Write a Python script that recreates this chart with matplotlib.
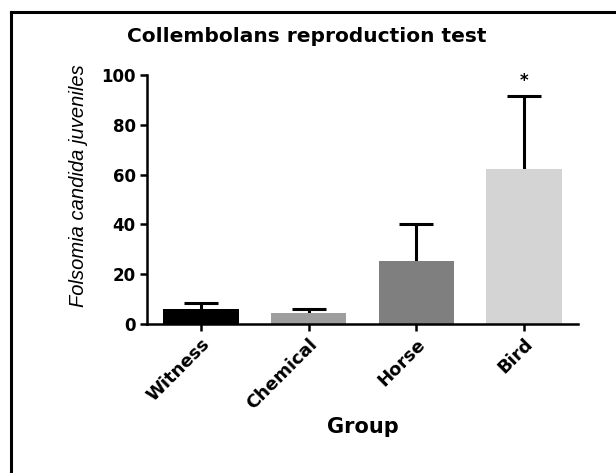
import numpy as np
import matplotlib.pyplot as plt
from matplotlib.lines import Line2D

# Data
groups = ["Witness", "Chemical", "Horse", "Bird"]
means = [5.9, 4.5, 25.2, 62.2]
errors = [2.4, 1.4, 14.8, 29.5]
colors = ["#000000", "#9e9e9e", "#7f7f7f", "#d4d4d4"]
star_group = "Bird"
star_y = 97.5

plt.rcParams['font.family'] = ['DejaVu Sans']

fig = plt.figure(figsize=(6.16, 4.73), dpi=100)
ax = fig.add_axes([0.2386, 0.315, 0.6994, 0.5264])

x = np.arange(len(groups))
# upper error bars only (SD shown above the bar)
_, caps, _ = ax.errorbar(x, means, yerr=[np.zeros(len(errors)), errors], fmt='none',
                         ecolor='black', elinewidth=2.2, capsize=12, capthick=2.2, zorder=1)
caps[0].set_visible(False)
ax.bar(x, means, width=0.7, color=colors, zorder=2)

ax.text(groups.index(star_group), star_y, "*", ha='center', va='center',
        fontsize=12, fontweight='bold')

ax.set_xlim(-0.5, 3.5)
ax.set_ylim(0, 100)
ax.set_yticks([0, 20, 40, 60, 80, 100])
ax.set_xticks(x)
ax.set_xticklabels(groups, rotation=45, ha='right', rotation_mode='anchor',
                   fontsize=13, fontweight='bold')
for lbl in ax.get_yticklabels():
    lbl.set_fontweight('bold')
    lbl.set_fontsize(12)

for side in ['top', 'right']:
    ax.spines[side].set_visible(False)
for side in ['left', 'bottom']:
    ax.spines[side].set_linewidth(1.8)
ax.tick_params(axis='both', width=1.8, length=5, direction='out')
ax.tick_params(axis='x', pad=3)
ax.tick_params(axis='y', pad=3)

fig.text(307 / 616, 1 - 37 / 473, "Collembolans reproduction test", ha='center', va='center',
         fontsize=14.5, fontweight='bold')
ax.set_ylabel("Folsomia candida juveniles", fontsize=14.5, style='italic',
              family=['Liberation Sans', 'DejaVu Sans'])
ax.yaxis.set_label_coords(-0.137, 0.555)
ax.set_xlabel("Group", fontsize=15, fontweight='bold', labelpad=3)

# frame around the picture (left and top edges)
fig.add_artist(Line2D([11 / 616, 11 / 616], [0, 1 - 12 / 473], color='black', lw=2.2))
fig.add_artist(Line2D([11 / 616, 1], [1 - 12 / 473, 1 - 12 / 473], color='black', lw=2.2))

fig.savefig("out.png", dpi=100)
